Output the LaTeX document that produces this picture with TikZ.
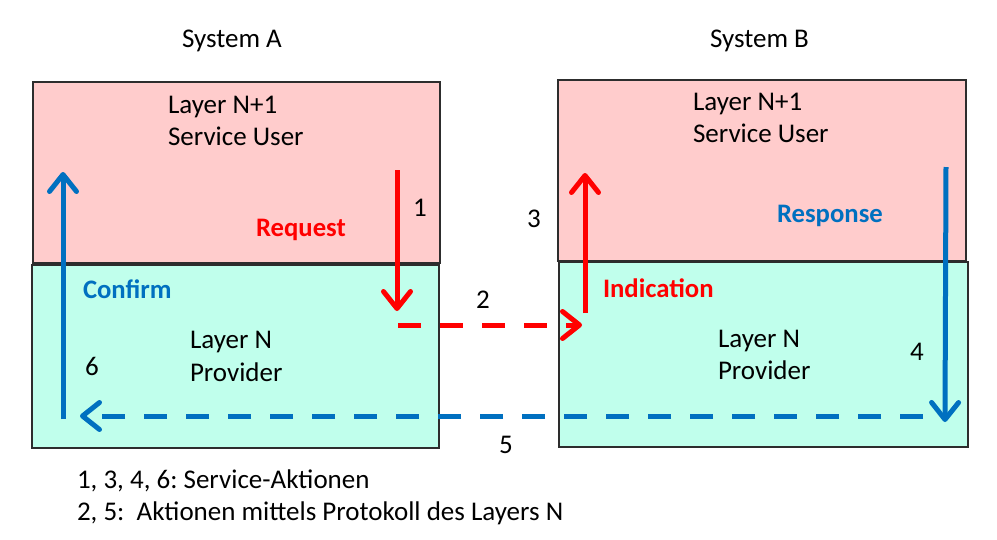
\documentclass[tikz,border=0pt]{standalone}
\usepackage{fontspec}
\setmainfont{Carlito}
\usetikzlibrary{arrows.meta}
\definecolor{userpink}{RGB}{255,204,204}
\definecolor{provcyan}{RGB}{192,255,236}
\definecolor{boxline}{RGB}{45,45,45}
\definecolor{actred}{RGB}{255,0,0}
\definecolor{actblue}{RGB}{0,112,192}
\tikzset{
  layerbox/.style={draw=boxline, line width=1.7pt, rectangle, inner sep=0pt, outer sep=0pt, anchor=north west},
  txt/.style={anchor=base west, inner sep=0pt, outer sep=0pt, font=\fontsize{27}{32}\selectfont},
  boldtxt/.style={txt, font=\fontsize{26.7}{32}\selectfont\bfseries},
  act/.style={line width=5pt, -{Straight Barb[length=17pt,width=27pt,round]}},
  proto/.style={act, dash pattern=on 23pt off 19pt}
}
\begin{document}
\frenchspacing
\begin{tikzpicture}[x=1pt,y=-1pt]
\useasboundingbox[fill=white] (0,0) rectangle (997,539);
% boxes
\node[layerbox, fill=userpink, minimum width=407pt, minimum height=181pt] (AU) at (33,82) {};
\node[layerbox, fill=provcyan, minimum width=407pt, minimum height=183pt] (AP) at (32,265) {};
\node[layerbox, fill=userpink, minimum width=408pt, minimum height=181pt] (BU) at (558,80) {};
\node[layerbox, fill=provcyan, minimum width=409pt, minimum height=185pt] (BP) at (559,262) {};
% titles
\node[txt] (tA) at (182,47) {System A};
\node[txt] (tB) at (710,47) {System B};
% box texts
\node[txt] (au1) at (168,113) {Layer N+1};
\node[txt] (au2) at (168,145) {Service User};
\node[txt] (bu1) at (693,110) {Layer N+1};
\node[txt] (bu2) at (693,142) {Service User};
\node[txt] (ap1) at (190,348) {Layer N};
\node[txt] (ap2) at (190,381) {Provider};
\node[txt] (bp1) at (718,347) {Layer N};
\node[txt] (bp2) at (718,379) {Provider};
% action labels
\node[boldtxt, text=actred] (req) at (256,236) {Request};
\node[boldtxt, text=actblue] (conf) at (83,298) {Confirm};
\node[boldtxt, text=actred] (ind) at (603,297) {Indication};
\node[boldtxt, text=actblue] (resp) at (777,222) {Response};
% numbers
\node[txt] (n1) at (413,216) {1};
\node[txt] (n2) at (476,308) {2};
\node[txt] (n3) at (527,227) {3};
\node[txt] (n4) at (910,360) {4};
\node[txt] (n5) at (499,453) {5};
\node[txt] (n6) at (85,375) {6};
% footer
\node[txt] (f1) at (77,488) {1, 3, 4, 6: Service-Aktionen};
\node[txt] (f2) at (77,520) {2, 5:\ \ Aktionen mittels Protokoll des Layers N};
% arrow end points
\coordinate (r1s) at (397,170);
\coordinate (r1e) at (397,311);
\coordinate (r2s) at (398,325);
\coordinate (r2e) at (582,325);
\coordinate (r3s) at (585,313);
\coordinate (r3e) at (585,173);
\coordinate (b4s) at (946,167);
\coordinate (b4e) at (945,422);
\coordinate (b5s) at (923,416);
\coordinate (b5e) at (80,416);
\coordinate (b6s) at (63,419);
\coordinate (b6e) at (63,172);
% arrows
\draw[act, draw=actred] (r1s) -- (r1e);
\draw[proto, draw=actred] (r2s) -- (r2e);
\draw[act, draw=actred] (r3s) -- (r3e);
\draw[act, draw=actblue] (b4s) -- (b4e);
\draw[proto, draw=actblue] (b5s) -- (b5e);
\draw[act, draw=actblue] (b6s) -- (b6e);
\end{tikzpicture}
\end{document}
